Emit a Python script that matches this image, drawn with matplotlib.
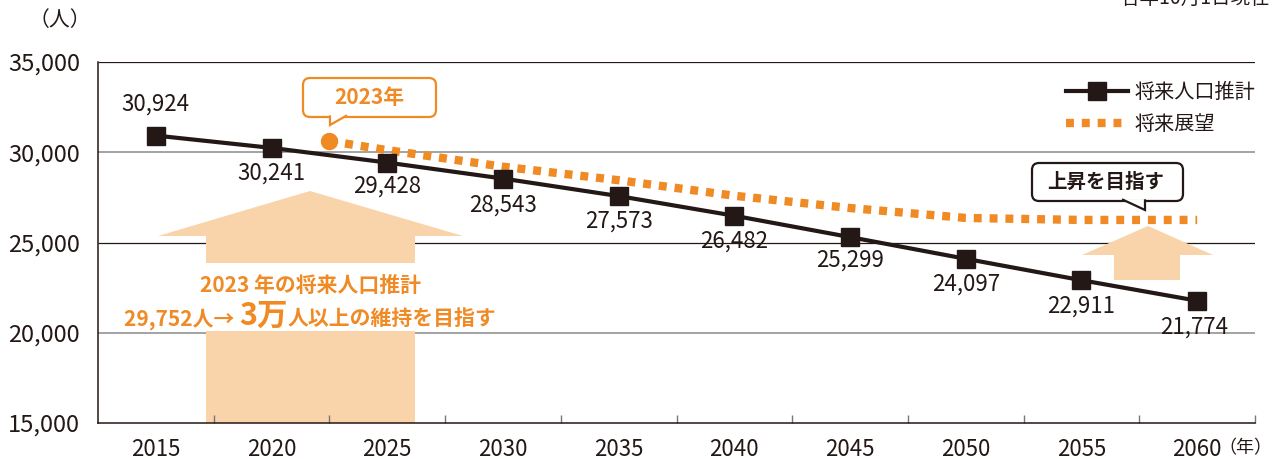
import matplotlib
matplotlib.use("Agg")
import matplotlib.pyplot as plt
import matplotlib.transforms as mtransforms
from matplotlib.patches import Polygon, FancyBboxPatch, Rectangle
from matplotlib.lines import Line2D
from matplotlib.offsetbox import TextArea, HPacker, AnnotationBbox

plt.rcParams['font.family'] = ['Noto Sans CJK JP', 'DejaVu Sans']

# data
years = [2015, 2020, 2025, 2030, 2035, 2040, 2045, 2050, 2055, 2060]
estimate = [30924, 30241, 29428, 28543, 27573, 26482, 25299, 24097, 22911, 21774]
vision_years = [2022.5, 2025, 2030, 2035, 2040, 2045, 2050, 2055, 2060]
vision = [30620, 30120, 29200, 28450, 27590, 26910, 26360, 26250, 26250]
y_ticks = [15000, 20000, 25000, 30000, 35000]

BLACK = '#231815'
ORANGE = '#EF8A24'
PEACH = '#F9D3AA'

W, H = 1278, 459
fig = plt.figure(figsize=(W / 100, H / 100), dpi=100)
# pixel coords, origin top-left (used for the annotations)
pix = mtransforms.Affine2D().scale(1 / W, -1 / H).translate(0, 1) + fig.transFigure

ax = fig.add_axes([98 / W, 1 - 423 / H, (1255 - 98) / W, (423 - 62) / H])
ax.set_xlim(2012.5, 2062.5)
ax.set_ylim(15000, 35000)

# horizontal rules
ax.hlines([20000, 30000], 2012.5, 2062.5, colors='#8a8a8a', lw=1.1, zorder=0.5)
ax.hlines([25000, 35000], 2012.5, 2062.5, colors=BLACK, lw=0.9, zorder=0.5)

for s in ['top', 'right']:
    ax.spines[s].set_visible(False)
for s in ['left', 'bottom']:
    ax.spines[s].set_color(BLACK)
    ax.spines[s].set_linewidth(1.1)

ax.set_yticks(y_ticks)
ax.set_yticklabels([f"{v:,}" for v in y_ticks])
ax.tick_params(axis='y', length=0, pad=13, labelsize=17, labelcolor=BLACK)
ax.set_xticks(years)
ax.set_xticklabels([str(y) for y in years])
ax.tick_params(axis='x', length=0, pad=11, labelsize=16, labelcolor=BLACK)
ax.set_xticks([y + 2.5 for y in years], minor=True)
ax.tick_params(axis='x', which='minor', direction='in', length=6, width=1, color='#777777')

# big arrows
left_arrow = Polygon([(206, 423), (206, 236), (158, 236), (310, 191), (463, 236), (415, 236), (415, 423)],
                     closed=True, transform=pix, fc=PEACH, ec='none', zorder=1, clip_on=False)
ax.add_artist(left_arrow)
ax.add_artist(Rectangle((200, 263), 222, 68, transform=pix, fc='white', ec='none', zorder=1.2, clip_on=False))
right_arrow = Polygon([(1114, 280), (1114, 255), (1082, 255), (1148, 226), (1213, 255), (1180, 255), (1180, 280)],
                      closed=True, transform=pix, fc=PEACH, ec='none', zorder=1, clip_on=False)
ax.add_artist(right_arrow)

# lines
ax.plot(vision_years, vision, color=ORANGE, lw=6, linestyle=(0, (0.95, 0.95)),
        dash_capstyle='butt', zorder=3)
ax.plot(vision_years[0], vision[0], 'o', color=ORANGE, ms=11.5, zorder=3.5)
ax.plot(years, estimate, color=BLACK, lw=3, marker='s', ms=12.5, zorder=4)

label_offsets = [(0, 31), (0, -25), (0, -24), (0, -27), (0, -25),
                 (0, -25), (0, -23), (0, -25), (0, -26), (-3, -26)]
for x, v, off in zip(years, estimate, label_offsets):
    ax.annotate(f"{v:,}", (x, v), xytext=off, textcoords='offset pixels',
                ha='center', va='center', fontsize=16, color=BLACK, zorder=5)

# text on the big arrow
ax.text(310, 285, "2023 年の将来人口推計", transform=pix, ha='center', va='center',
        fontsize=15, fontweight='bold', color=ORANGE, zorder=6)
tp = dict(fontweight='bold', color=ORANGE, family=['Noto Sans CJK JP', 'DejaVu Sans'])
pack = HPacker(children=[TextArea("29,752人→ ", textprops=dict(fontsize=15, **tp)),
                         TextArea("3万", textprops=dict(fontsize=22, **tp)),
                         TextArea("人以上の維持を目指す", textprops=dict(fontsize=15, **tp))],
               align='baseline', pad=0, sep=0)
ab = AnnotationBbox(pack, (310, 316), xycoords=pix, box_alignment=(0.5, 0.5),
                    frameon=False, pad=0, zorder=6, annotation_clip=False)
ax.add_artist(ab)


def bubble(x0, y0, x1, y1, tail, color, text, tx, ty, fs):
    box = FancyBboxPatch((x0, y0), x1 - x0, y1 - y0, boxstyle="round,pad=0,rounding_size=7",
                         transform=pix, fc='white', ec=color, lw=1.6, zorder=6, clip_on=False)
    ax.add_artist(box)
    tri = Polygon(tail, closed=False, transform=pix, fc='white', ec=color, lw=1.6,
                  zorder=6.1, clip_on=False, joinstyle='miter')
    ax.add_artist(tri)
    ax.text(tx, ty, text, transform=pix, ha='center', va='center', fontsize=fs,
            fontweight='bold', color=color, zorder=6.2)


bubble(303, 78, 436, 117, [(330, 115.3), (330, 125), (347, 115.3)], ORANGE, "2023年", 369, 98, 15)
bubble(1032, 163, 1183, 201, [(1122, 199.3), (1145, 210), (1145, 199.3)], BLACK, "上昇を目指す", 1106, 182, 14)

# legend
handles = [Line2D([], [], color=BLACK, lw=3, marker='s', ms=12.5),
           Line2D([], [], color=ORANGE, lw=6, linestyle=(0, (0.95, 0.95)), dash_capstyle='butt')]
leg = ax.legend(handles, ["将来人口推計", "将来展望"], loc='upper right', bbox_to_anchor=(1255, 82),
                bbox_transform=pix, frameon=False, fontsize=14.5, handlelength=3.1,
                handletextpad=0.3, borderpad=0, borderaxespad=0, labelspacing=0.55)
for t in leg.get_texts():
    t.set_color(BLACK)

# unit labels and note
ax.text(60, 20, "（人）", transform=pix, ha='center', va='center', fontsize=15, color=BLACK)
ax.text(1218, 448, "（年）", transform=pix, ha='left', va='center', fontsize=13, color=BLACK)
ax.text(1270, 9, "各年10月1日現在", transform=pix, ha='right', va='bottom', fontsize=14, color=BLACK)

fig.savefig("out.png", dpi=100)
